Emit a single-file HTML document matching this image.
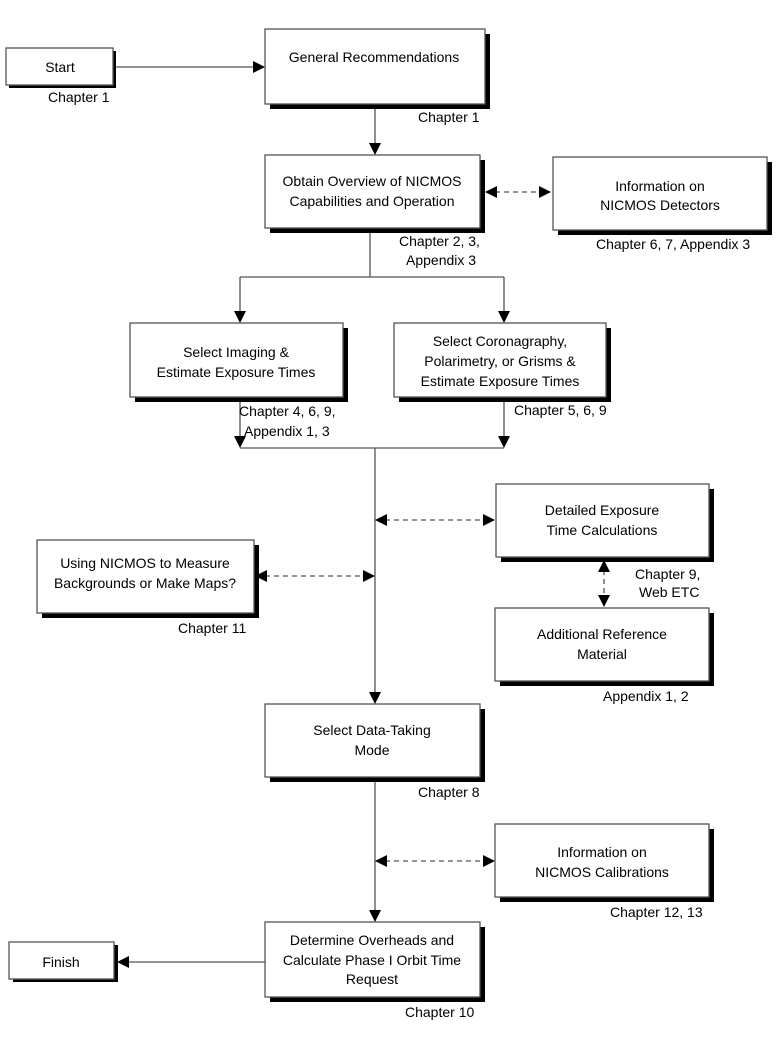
<!DOCTYPE html>
<html><head><style>
html,body{margin:0;padding:0;background:#fff;}
svg text{font-family:"Liberation Sans",sans-serif;font-size:14px;fill:#000;}
</style></head><body>
<svg width="780" height="1039" viewBox="0 0 780 1039" xmlns="http://www.w3.org/2000/svg">
<defs>
<marker id="a" markerWidth="12" markerHeight="12" refX="11" refY="6" orient="auto-start-reverse" markerUnits="userSpaceOnUse"><path d="M0,0 L12,6 L0,12 z" fill="#000"/></marker>
</defs>
<g stroke="#555" stroke-width="1.3" fill="none">
<line x1="113" y1="67" x2="264" y2="67" marker-end="url(#a)"/>
<line x1="375" y1="104" x2="375" y2="154" marker-end="url(#a)"/>
<line x1="370" y1="228" x2="370" y2="277"/>
<line x1="240" y1="277" x2="504" y2="277"/>
<line x1="240" y1="277" x2="240" y2="322" marker-end="url(#a)"/>
<line x1="504" y1="277" x2="504" y2="322" marker-end="url(#a)"/>
<line x1="240" y1="397" x2="240" y2="447" marker-end="url(#a)"/>
<line x1="504" y1="397" x2="504" y2="447" marker-end="url(#a)"/>
<line x1="240" y1="448" x2="504" y2="448"/>
<line x1="375" y1="448" x2="375" y2="703" marker-end="url(#a)"/>
<line x1="375" y1="777" x2="375" y2="921" marker-end="url(#a)"/>
<line x1="265" y1="962" x2="118" y2="962" marker-end="url(#a)"/>
</g>
<g stroke="#555" stroke-width="1.3" stroke-dasharray="5,4" fill="none">
<line x1="486" y1="192" x2="550" y2="192" marker-start="url(#a)" marker-end="url(#a)"/>
<line x1="376" y1="520" x2="494" y2="520" marker-start="url(#a)" marker-end="url(#a)"/>
<line x1="604" y1="561" x2="604" y2="606" marker-start="url(#a)" marker-end="url(#a)"/>
<line x1="256" y1="576" x2="374" y2="576" marker-start="url(#a)" marker-end="url(#a)"/>
<line x1="376" y1="861" x2="494" y2="861" marker-start="url(#a)" marker-end="url(#a)"/>
</g>
<g>
<rect x="9" y="51" width="107" height="37" fill="#000"/>
<rect x="6" y="48" width="107" height="37" fill="#fff" stroke="#555" stroke-width="1.3"/>
<rect x="13" y="945" width="105" height="37" fill="#000"/>
<rect x="9" y="942" width="105" height="37" fill="#fff" stroke="#555" stroke-width="1.3"/>
</g>
<g>
<rect x="270" y="34" width="220" height="75" fill="#000"/><rect x="265" y="29" width="220" height="75" fill="#fff" stroke="#555" stroke-width="1.3"/>
<rect x="270" y="160" width="215" height="73" fill="#000"/><rect x="265" y="155" width="215" height="73" fill="#fff" stroke="#555" stroke-width="1.3"/>
<rect x="558" y="162" width="214" height="73" fill="#000"/><rect x="553" y="157" width="214" height="73" fill="#fff" stroke="#555" stroke-width="1.3"/>
<rect x="135" y="328" width="213" height="74" fill="#000"/><rect x="130" y="323" width="213" height="74" fill="#fff" stroke="#555" stroke-width="1.3"/>
<rect x="399" y="328" width="212" height="74" fill="#000"/><rect x="394" y="323" width="212" height="74" fill="#fff" stroke="#555" stroke-width="1.3"/>
<rect x="501" y="489" width="213" height="73" fill="#000"/><rect x="496" y="484" width="213" height="73" fill="#fff" stroke="#555" stroke-width="1.3"/>
<rect x="500" y="613" width="214" height="73" fill="#000"/><rect x="495" y="608" width="214" height="73" fill="#fff" stroke="#555" stroke-width="1.3"/>
<rect x="42" y="545" width="217" height="73" fill="#000"/><rect x="37" y="540" width="217" height="73" fill="#fff" stroke="#555" stroke-width="1.3"/>
<rect x="270" y="709" width="215" height="73" fill="#000"/><rect x="265" y="704" width="215" height="73" fill="#fff" stroke="#555" stroke-width="1.3"/>
<rect x="500" y="829" width="214" height="73" fill="#000"/><rect x="495" y="824" width="214" height="73" fill="#fff" stroke="#555" stroke-width="1.3"/>
<rect x="270" y="927" width="215" height="75" fill="#000"/><rect x="265" y="922" width="215" height="75" fill="#fff" stroke="#555" stroke-width="1.3"/>
</g>
<g text-anchor="middle">
<text x="60" y="72">Start</text>
<text x="61" y="967">Finish</text>
<text x="374" y="62">General Recommendations</text>
<text x="372" y="186">Obtain Overview of NICMOS</text>
<text x="372" y="206">Capabilities and Operation</text>
<text x="660" y="191">Information on</text>
<text x="660" y="210">NICMOS Detectors</text>
<text x="236" y="357">Select Imaging &amp;</text>
<text x="236" y="377">Estimate Exposure Times</text>
<text x="500" y="346">Select Coronagraphy,</text>
<text x="500" y="366">Polarimetry, or Grisms &amp;</text>
<text x="500" y="386">Estimate Exposure Times</text>
<text x="602" y="515">Detailed Exposure</text>
<text x="602" y="535">Time Calculations</text>
<text x="602" y="639">Additional Reference</text>
<text x="602" y="659">Material</text>
<text x="145" y="568">Using NICMOS to Measure</text>
<text x="145" y="588">Backgrounds or Make Maps?</text>
<text x="372" y="735">Select Data-Taking</text>
<text x="372" y="755">Mode</text>
<text x="602" y="857">Information on</text>
<text x="602" y="877">NICMOS Calibrations</text>
<text x="372" y="945">Determine Overheads and</text>
<text x="372" y="965">Calculate Phase I Orbit Time</text>
<text x="372" y="984">Request</text>
</g>
<g>
<text x="48" y="102">Chapter 1</text>
<text x="418" y="122">Chapter 1</text>
<text x="399" y="246">Chapter 2, 3,</text>
<text x="406" y="265">Appendix 3</text>
<text x="596" y="249">Chapter 6, 7, Appendix 3</text>
<text x="239" y="416">Chapter 4, 6, 9,</text>
<text x="244" y="436">Appendix 1, 3</text>
<text x="514" y="415">Chapter 5, 6, 9</text>
<text x="635" y="579">Chapter 9,</text>
<text x="639" y="597">Web ETC</text>
<text x="603" y="701">Appendix 1, 2</text>
<text x="178" y="633">Chapter 11</text>
<text x="418" y="797">Chapter 8</text>
<text x="610" y="917">Chapter 12, 13</text>
<text x="405" y="1017">Chapter 10</text>
</g>
</svg>
</body></html>
